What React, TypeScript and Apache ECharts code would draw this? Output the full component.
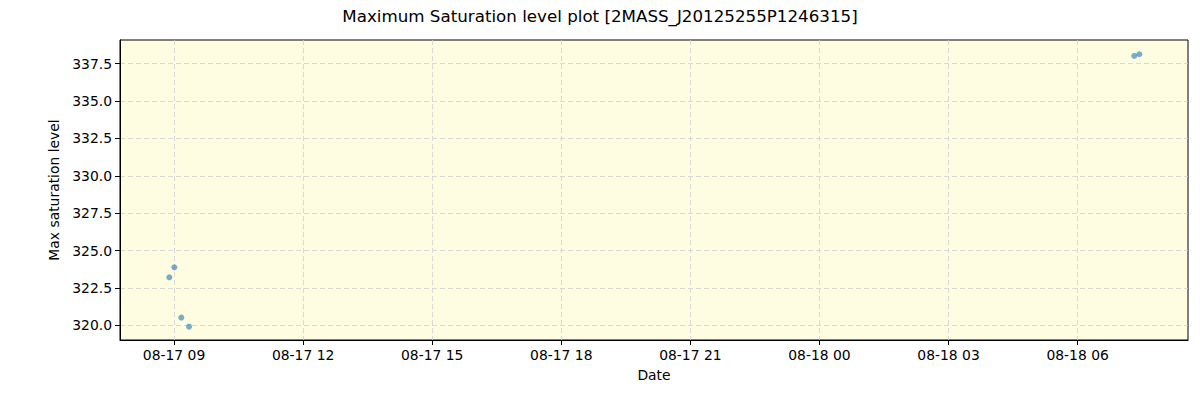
import React, { useEffect, useRef } from "react";
import * as echarts from "echarts";

const TITLE = "Maximum Saturation level plot [2MASS_J20125255P1246315]";
// observation times (month-day hh:mm:ss) and max saturation values
const times = [
  "08-17 08:53:26",
  "08-17 09:00:25",
  "08-17 09:10:10",
  "08-17 09:20:55",
  "08-18 07:19:00",
  "08-18 07:26:00",
];
const values = [323.21, 323.88, 320.52, 319.91, 338.02, 338.13];
const xTickLabels = [
  "08-17 09",
  "08-17 12",
  "08-17 15",
  "08-17 18",
  "08-17 21",
  "08-18 00",
  "08-18 03",
  "08-18 06",
];
const yTicks = [320.0, 322.5, 325.0, 327.5, 330.0, 332.5, 335.0, 337.5];
const xRange = ["08-17 07:44:40", "08-18 08:33:55"];
const yRange = [319.017, 339.085];

// hours since 08-17 00:00
function toHours(s: string): number {
  const [md, hms] = s.split(" ");
  const day = parseInt(md.split("-")[1], 10);
  const [h, m, sec] = hms.split(":").map((v) => parseInt(v, 10));
  return (day - 17) * 24 + h + (m || 0) / 60 + (sec || 0) / 3600;
}
function labelToHours(s: string): number {
  return toHours(s + ":00:00");
}

export default function App() {
  const ref = useRef<HTMLDivElement>(null);
  useEffect(() => {
    if (!ref.current) return;
    const chart = echarts.init(ref.current, undefined, { renderer: "svg" });
    const xTickVals = xTickLabels.map(labelToHours);
    const labelMap: Record<string, string> = {};
    xTickVals.forEach((v, i) => (labelMap[v.toFixed(4)] = xTickLabels[i]));
    const font = "DejaVu Sans";
    const fs = 13.9;
    chart.setOption({
      animation: false,
      textStyle: { fontFamily: font },
      title: {
        text: TITLE,
        left: "center",
        top: 2,
        textStyle: { fontFamily: font, fontSize: 16.7, fontWeight: "normal", color: "#000" },
      },
      grid: {
        left: 120,
        right: 12,
        top: 40,
        bottom: 60,
        show: true,
        backgroundColor: "#FFFDE1",
        borderColor: "#000",
        borderWidth: 1,
      },
      xAxis: {
        type: "value",
        min: toHours(xRange[0]),
        max: toHours(xRange[1]),
        name: "Date",
        nameLocation: "middle",
        nameGap: 28,
        nameTextStyle: { fontFamily: font, fontSize: fs, color: "#000" },
        axisLine: { show: true, lineStyle: { color: "#000" } },
        axisTick: {
          show: true,
          length: 5,
          lineStyle: { color: "#000" },
          customValues: xTickVals,
        },
        axisLabel: {
          customValues: xTickVals,
          fontFamily: font,
          fontSize: fs,
          color: "#000",
          margin: 8,
          formatter: (v: number) => labelMap[v.toFixed(4)] ?? "",
        },
        splitLine: {
          show: true,
          lineStyle: { color: "#d0d0d0", type: [5, 3], width: 0.8 },
        },
      },
      yAxis: {
        type: "value",
        min: yRange[0],
        max: yRange[1],
        name: "Max saturation level",
        nameLocation: "middle",
        nameGap: 53,
        nameTextStyle: { fontFamily: font, fontSize: fs, color: "#000" },
        axisLine: { show: true, lineStyle: { color: "#000" } },
        axisTick: {
          show: true,
          length: 5,
          lineStyle: { color: "#000" },
          customValues: yTicks,
        },
        axisLabel: {
          customValues: yTicks,
          fontFamily: font,
          fontSize: fs,
          color: "#000",
          margin: 8,
          formatter: (v: number) => v.toFixed(1),
        },
        splitLine: {
          show: true,
          lineStyle: { color: "#d0d0d0", type: [5, 3], width: 0.8 },
        },
      },
      series: [
        {
          type: "scatter",
          data: times.map((t, i) => [toHours(t), values[i]]),
          symbolSize: 6,
          itemStyle: { color: "#1f77b4", opacity: 0.6 },
        },
      ],
    });
    return () => chart.dispose();
  }, []);
  return <div ref={ref} style={{ width: 1200, height: 400, margin: -8 }} />;
}
